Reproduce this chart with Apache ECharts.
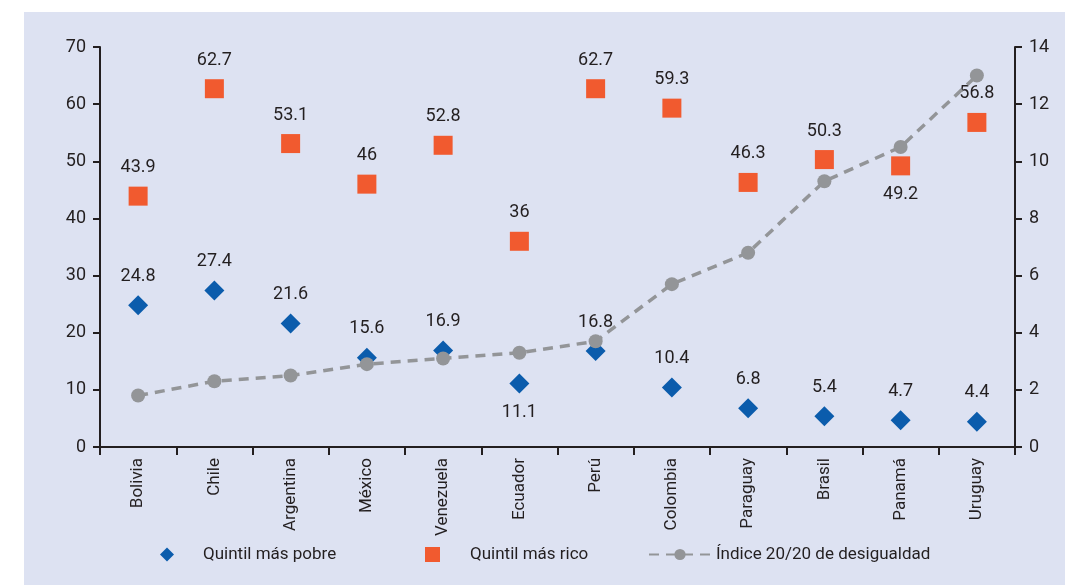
<!DOCTYPE html>
<html><head><meta charset="utf-8">
<script src="https://cdn.jsdelivr.net/npm/echarts@6/dist/echarts.min.js"></script>
<style>
html,body{margin:0;padding:0;background:#fff;}
#wrap{position:relative;width:1065px;height:585px;}
#bg{position:absolute;left:24px;top:12px;right:0;bottom:0;background:#dde2f2;}
#main{position:absolute;left:0;top:0;width:1065px;height:585px;}
</style></head>
<body><div id="wrap"><div id="bg"></div><div id="main"></div></div>
<script>
const categories = ['Bolivia','Chile','Argentina','México','Venezuela','Ecuador','Perú','Colombia','Paraguay','Brasil','Panamá','Uruguay'];
const poorest = [24.8, 27.4, 21.6, 15.6, 16.9, 11.1, 16.8, 10.4, 6.8, 5.4, 4.7, 4.4];
const richest = [43.9, 62.7, 53.1, 46, 52.8, 36, 62.7, 59.3, 46.3, 50.3, 49.2, 56.8];
const index2020 = [1.8, 2.3, 2.5, 2.9, 3.1, 3.3, 3.7, 5.7, 6.8, 9.3, 10.5, 13.0];
const leftTicks = [0, 70, 10];
const rightTicks = [0, 14, 2];

const FONT = 'Roboto, "DejaVu Sans", sans-serif';
const TXT = '#231f20';
const AX = '#231f20';
const labelBelow = { 'Ecuador': true };
const richBelow = { 'Panamá': true };

const chart = echarts.init(document.getElementById('main'), null, {renderer:'canvas'});
chart.setOption({
  backgroundColor: 'transparent',
  animation: false,
  textStyle: { fontFamily: FONT },
  grid: { left: 100, right: 50, top: 47, bottom: 138, containLabel: false },
  legend: [
    { left: 155, top: 541, itemWidth: 14, itemHeight: 14, textStyle:{fontFamily:FONT,fontSize:17,color:TXT,padding:[0,0,0,24]}, data:[{name:'Quintil más pobre', icon:'diamond'}] },
    { left: 420, top: 541, itemWidth: 15, itemHeight: 15, textStyle:{fontFamily:FONT,fontSize:17,color:TXT,padding:[0,0,0,25]}, data:[{name:'Quintil más rico', icon:'rect'}] },
    { left: 643, top: 541, itemWidth: 62, itemHeight: 14, textStyle:{fontFamily:FONT,fontSize:17,color:TXT,padding:[0,0,0,0]}, data:[{name:'Índice 20/20 de desigualdad'}] }
  ],
  xAxis: {
    type: 'category', data: categories, boundaryGap: true,
    axisLine: { lineStyle: { color: AX, width: 2 } },
    axisTick: { show: true, length: 8, lineStyle: { color: AX, width: 2 } },
    axisLabel: { rotate: 90, fontSize: 17, color: TXT, fontFamily: FONT, margin: 11, interval: 0 }
  },
  yAxis: [
    { type: 'value', min: leftTicks[0], max: leftTicks[1], interval: leftTicks[2],
      axisLine: { show: true, lineStyle: { color: AX, width: 2 } },
      axisTick: { show: true, length: 7, lineStyle: { color: AX, width: 2 } },
      splitLine: { show: false },
      axisLabel: { fontSize: 18, color: TXT, fontFamily: FONT, margin: 14 } },
    { type: 'value', min: rightTicks[0], max: rightTicks[1], interval: rightTicks[2], position: 'right',
      axisLine: { show: true, lineStyle: { color: AX, width: 2 } },
      axisTick: { show: true, length: 7, lineStyle: { color: AX, width: 2 } },
      splitLine: { show: false },
      axisLabel: { fontSize: 18, color: TXT, fontFamily: FONT, margin: 14 } }
  ],
  series: [
    { name: 'Quintil más pobre', type: 'scatter', yAxisIndex: 0, symbol: 'diamond', symbolSize: [20, 20], z: 2,
      itemStyle: { color: '#0b5cac', opacity: 1 },
      data: poorest.map((v, i) => ({ value: v, label: { position: labelBelow[categories[i]] ? 'bottom' : 'top' } })),
      label: { show: true, distance: 10, fontSize: 18, color: TXT, fontFamily: FONT } },
    { name: 'Quintil más rico', type: 'scatter', yAxisIndex: 0, symbol: 'rect', symbolSize: 19, z: 2,
      itemStyle: { color: '#f15a2f', opacity: 1 },
      data: richest.map((v, i) => ({ value: v, label: { position: richBelow[categories[i]] ? 'bottom' : 'top' } })),
      label: { show: true, distance: 10, fontSize: 18, color: TXT, fontFamily: FONT } },
    { name: 'Índice 20/20 de desigualdad', type: 'line', yAxisIndex: 1, data: index2020,
      symbol: 'circle', symbolSize: 14, z: 4,
      lineStyle: { color: '#939598', width: 3.5, type: [10, 7] },
      itemStyle: { color: '#939598', opacity: 1 } }
  ]
});
</script></body></html>
